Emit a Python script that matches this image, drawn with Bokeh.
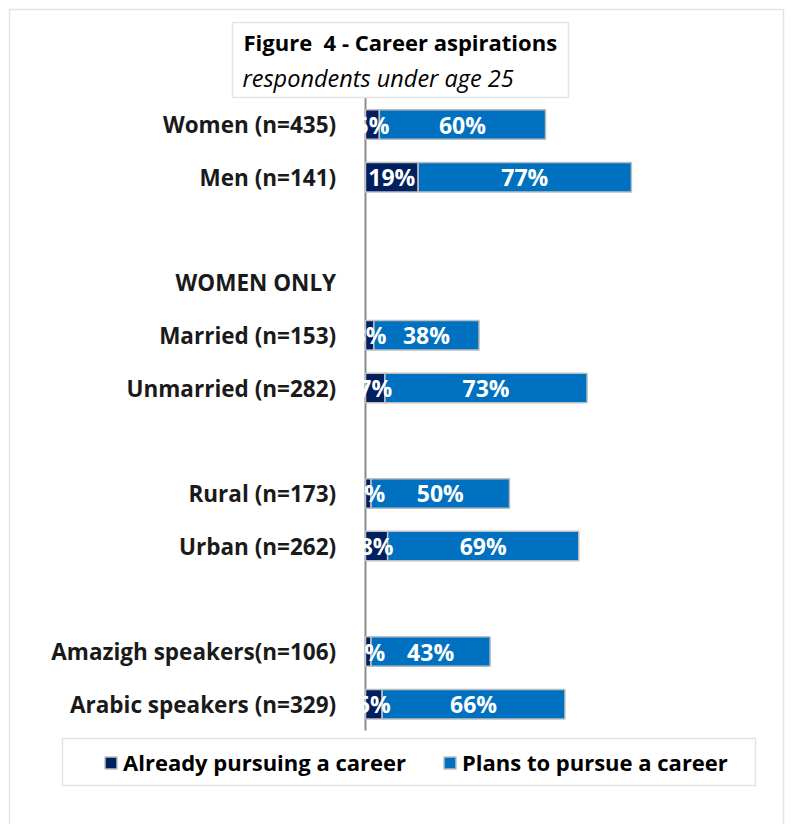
from bokeh.plotting import figure
from bokeh.models import (Range1d, ColumnDataSource, Label, Legend,
                          LegendItem, BoxAnnotation)
from bokeh.core.properties import value
from bokeh.embed import file_html
from bokeh.resources import INLINE

# ---- data ----
categories = ["Women (n=435)", "Men (n=141)", "", "WOMEN ONLY",
              "Married (n=153)", "Unmarried (n=282)", "",
              "Rural (n=173)", "Urban (n=262)", "",
              "Amazigh speakers(n=106)", "Arabic speakers (n=329)"]
groups = ["Women (n=435)", "Men (n=141)", "Married (n=153)", "Unmarried (n=282)",
          "Rural (n=173)", "Urban (n=262)", "Amazigh speakers(n=106)",
          "Arabic speakers (n=329)"]
already = [5, 19, 3, 7, 2, 8, 2, 6]
plans = [60, 77, 38, 73, 50, 69, 43, 66]
series = ["Already pursuing a career", "Plans to pursue a career"]
colors = ["#002060", "#0070C0"]
title_main = "Figure  4 - Career aspirations"
title_sub = "respondents under age 25"

FONT = "Open Sans"

row = [categories.index(g) for g in groups]
src = ColumnDataSource(dict(
    row=row,
    already=already,
    plans=plans,
    p_end=[a + b for a, b in zip(already, plans)],
    a_mid=[a / 2 for a in already],
    p_mid=[a + b / 2 for a, b in zip(already, plans)],
    a_lab=[f"{a}%" for a in already],
    p_lab=[f"{b}%" for b in plans],
))
cat_src = ColumnDataSource(dict(row=list(range(len(categories))), name=categories))

W, H = 791, 824
px_per_pct = 2.77
axis_px = 365
row_px, row0_px = 52.7, 124

p = figure(width=W, height=H,
           x_range=Range1d(-axis_px / px_per_pct, (W - axis_px) / px_per_pct),
           y_range=Range1d((H - row0_px) / row_px, -row0_px / row_px),
           x_axis_type=None, y_axis_type=None,
           output_backend="svg", toolbar_location=None,
           min_border=0, min_border_left=0, min_border_right=0,
           min_border_top=0, min_border_bottom=0)
p.title.visible = False
p.outline_line_color = None
p.background_fill_color = "white"
p.border_fill_color = "white"
p.xgrid.grid_line_color = None
p.ygrid.grid_line_color = None

# outer border
p.add_layout(BoxAnnotation(left=9, right=783, top=9, bottom=900,
                           left_units="canvas", right_units="canvas",
                           top_units="canvas", bottom_units="canvas",
                           fill_color=None, line_color="#A6A6A6", line_width=1.5,
                           level="underlay"))

# category axis (line + labels)
n = len(categories)
p.segment(x0=[0], y0=[-0.5], x1=[0], y1=[n - 0.5], line_color="#8c8c8c", line_width=2)
p.text(x=-10.6, y="row", text="name", source=cat_src,
       text_align="right", text_baseline="middle",
       text_color="#1a1a1a", text_font=value(FONT),
       text_font_style="bold", text_font_size="22.5px")

r1 = p.hbar(y="row", left=0, right="already", height=0.56, source=src,
            fill_color=colors[0], line_color="#BFBFBF", line_width=1.5)
r2 = p.hbar(y="row", left="already", right="p_end", height=0.56, source=src,
            fill_color=colors[1], line_color="#BFBFBF", line_width=1.5)

for xcol, tcol in (("a_mid", "a_lab"), ("p_mid", "p_lab")):
    p.text(x=xcol, y="row", text=tcol, source=src,
           text_align="center", text_baseline="middle",
           text_color="white", text_font=value(FONT),
           text_font_style="bold", text_font_size="23px")

# title box
p.add_layout(BoxAnnotation(left=232, right=568, top=22, bottom=97,
                           left_units="canvas", right_units="canvas",
                           top_units="canvas", bottom_units="canvas",
                           fill_color="white", fill_alpha=1.0,
                           line_color="#A6A6A6", line_width=1.5))
p.add_layout(Label(x=243, y=41, x_units="canvas", y_units="canvas",
                   text=title_main.replace("  ", "\u00a0 "), text_font=FONT,
                   text_font_style="bold",
                   text_font_size="22px", text_color="black",
                   text_baseline="alphabetic"))
p.add_layout(Label(x=242, y=77, x_units="canvas", y_units="canvas",
                   text=title_sub, text_font=FONT, text_font_style="italic",
                   text_font_size="23.5px", text_color="black",
                   text_baseline="alphabetic"))
# legend box
p.add_layout(BoxAnnotation(left=62, right=755, top=738, bottom=785,
                           left_units="canvas", right_units="canvas",
                           top_units="canvas", bottom_units="canvas",
                           fill_color="white", fill_alpha=1.0,
                           line_color="#A6A6A6", line_width=1.5))
legend = Legend(items=[LegendItem(label=series[0], renderers=[r1]),
                       LegendItem(label=series[1], renderers=[r2])],
                orientation="horizontal", location=(103, 47),
                padding=0, margin=0, spacing=36,
                glyph_width=15, glyph_height=15, label_standoff=5,
                label_text_font=FONT, label_text_font_style="bold",
                label_text_font_size="22px", label_text_color="black",
                border_line_color=None, background_fill_color=None)
p.add_layout(legend)

open("out.html", "w").write(file_html(p, INLINE))
